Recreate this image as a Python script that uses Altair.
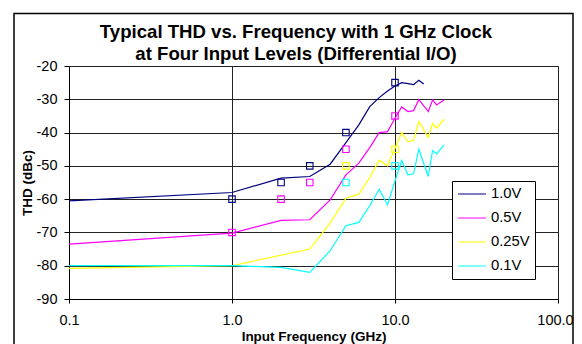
import altair as alt
import pandas as pd

FONT = "Liberation Sans"

series_names = ["1.0V", "0.5V", "0.25V", "0.1V"]
series_colors = ["#000080", "#FF00FF", "#FFFF00", "#00FFFF"]

blue_f = [0.1, 1, 2, 3, 4, 5, 6, 7, 8, 9, 10, 11, 12, 13, 14, 15]
blue_v = [-60.5, -58, -53.7, -53.2, -49.5, -43, -37.7, -32.2, -29.5, -27.5, -26, -25, -25.3, -25.6, -24.3, -25.4]

magenta_f = [0.1, 1, 2, 3, 4, 5, 6, 7, 8, 9, 10, 11, 12, 13, 14, 16, 17, 18, 20]
magenta_v = [-73.5, -70.2, -66.4, -66.2, -60.2, -52.7, -49.2, -44.5, -40, -39.7, -35.7, -32.3, -33.7, -33.4, -30.1, -33.7, -30.2, -31.7, -30.2]

yellow_f = [0.1, 1, 3, 4, 5, 6, 7, 8, 9, 10, 11, 12, 13, 14, 16, 17, 18, 20]
yellow_v = [-80.8, -80, -75, -67.2, -59.7, -58.5, -53.5, -48.3, -50, -44.7, -40, -42.7, -42.4, -36.7, -41.5, -37.2, -38.7, -36]

cyan_f = [0.1, 1, 2, 3, 4, 5, 6, 7, 8, 9, 10, 11, 12, 13, 14, 16, 17, 18, 20]
cyan_v = [-80, -80, -80.5, -82, -75.5, -68, -67, -62, -57, -61.7, -54.5, -48.4, -52.7, -52.4, -45, -53.2, -45.4, -46.4, -43.7]

# hollow square markers
blue_mf = [1, 2, 3, 5, 10]
blue_mv = [-60, -55, -50, -40, -25]
magenta_mf = [1, 2, 3, 5, 10]
magenta_mv = [-70, -60, -55, -45, -35]
yellow_mf = [5, 10]
yellow_mv = [-50, -45]
cyan_mf = [5, 10]
cyan_mv = [-55, -50]

x_ticks = [0.1, 1, 10, 100]
y_ticks = [-90, -80, -70, -60, -50, -40, -30, -20]

title_lines = ["Typical THD vs. Frequency with 1 GHz Clock", "at Four Input Levels (Differential I/O)"]

line_sets = [(blue_f, blue_v), (magenta_f, magenta_v), (yellow_f, yellow_v), (cyan_f, cyan_v)]
mark_sets = [(blue_mf, blue_mv), (magenta_mf, magenta_mv), (yellow_mf, yellow_mv), (cyan_mf, cyan_mv)]

rows = []
for name, (fs, vs) in zip(series_names, line_sets):
    for i, (f, v) in enumerate(zip(fs, vs)):
        rows.append({"series": name, "freq": f, "thd": v, "order": i})
lines_df = pd.DataFrame(rows)

mrows = []
for name, col, (fs, vs) in zip(series_names, series_colors, mark_sets):
    for f, v in zip(fs, vs):
        mrows.append({"series": name, "freq": f, "thd": v, "col": col})
marks_df = pd.DataFrame(mrows)

x_scale = alt.Scale(type="log", domain=[0.1, 100], nice=False)
y_scale = alt.Scale(domain=[-90, -20], nice=False, zero=False)

x_axis = alt.Axis(
    title="Input Frequency (GHz)", values=x_ticks, format=".1f", tickCount=10,
    labelFont=FONT, labelFontSize=14.5, labelColor="black", labelPadding=10,
    labelOverlap=False, labelFlush=False,
    labelOffset={"condition": {"test": "datum.value >= 100", "value": -3}, "value": 0},
    titleFont=FONT, titleFontSize=13.5, titleFontWeight="bold", titleColor="black",
    titleY=37, titleBaseline="middle",
    tickSize=4, tickColor="black", domainColor="black",
    grid=True, gridColor="#222", gridWidth=1,
)
y_axis = alt.Axis(
    title="THD (dBc)", values=y_ticks, tickCount=20, labelExpr="'' + datum.value",
    labelFont=FONT, labelFontSize=14.5, labelColor="black", labelPadding=7,
    labelOverlap=False, labelFlush=False,
    titleFont=FONT, titleFontSize=13.5, titleFontWeight="bold", titleColor="black",
    titleX=-35, titleY=116.5,
    tickSize=5, tickColor="black", domainColor="black",
    grid=True, gridColor="#222", gridWidth=1,
)

lines = alt.Chart(lines_df).mark_line(strokeWidth=1.2).encode(
    x=alt.X("freq:Q", scale=x_scale, axis=x_axis),
    y=alt.Y("thd:Q", scale=y_scale, axis=y_axis),
    color=alt.Color(
        "series:N",
        scale=alt.Scale(domain=series_names, range=series_colors),
        legend=alt.Legend(
            title=None, orient="none", legendX=383, legendY=115,
            symbolType="stroke", symbolSize=784, symbolStrokeWidth=1.2,
            labelFont=FONT, labelFontSize=14.8, labelColor="black", labelOffset=4,
            padding=5, rowPadding=8, clipHeight=16,
            strokeColor="black", fillColor="white",
        ),
        sort=series_names,
    ),
    order="order:Q",
)

points = alt.Chart(marks_df).mark_point(shape="square", filled=False, size=42, strokeWidth=1.1, opacity=1).encode(
    x=alt.X("freq:Q", scale=x_scale),
    y=alt.Y("thd:Q", scale=y_scale),
    color=alt.Color("col:N", scale=None, legend=None),
)

frame = alt.Chart(pd.DataFrame({"a": [0]})).mark_rect(
    fill=None, fillOpacity=0, stroke="black", strokeWidth=1.5
).encode(
    x=alt.value(-55), x2=alt.value(504), y=alt.value(-52.5), y2=alt.value(320)
)

title_df = pd.DataFrame({"t": title_lines, "row": [0, 1]})
title1 = alt.Chart(title_df).transform_filter("datum.row == 0").mark_text(
    font=FONT, fontSize=18.6, fontWeight="bold", color="black", align="center", baseline="alphabetic"
).encode(text="t:N", x=alt.value(227), y=alt.value(-28.5))
title2 = alt.Chart(title_df).transform_filter("datum.row == 1").mark_text(
    font=FONT, fontSize=18.6, fontWeight="bold", color="black", align="center", baseline="alphabetic"
).encode(text="t:N", x=alt.value(227), y=alt.value(-6.5))

chart = alt.layer(lines, points, frame, title1, title2).properties(
    width=489, height=233,
    autosize=alt.AutoSizeParams(type="none"),
    padding={"left": 61, "top": 58, "right": 16, "bottom": 45},
).configure_view(strokeWidth=0).configure(background="white")

chart.save("out.html", embed_options={"renderer": "svg", "actions": False})
